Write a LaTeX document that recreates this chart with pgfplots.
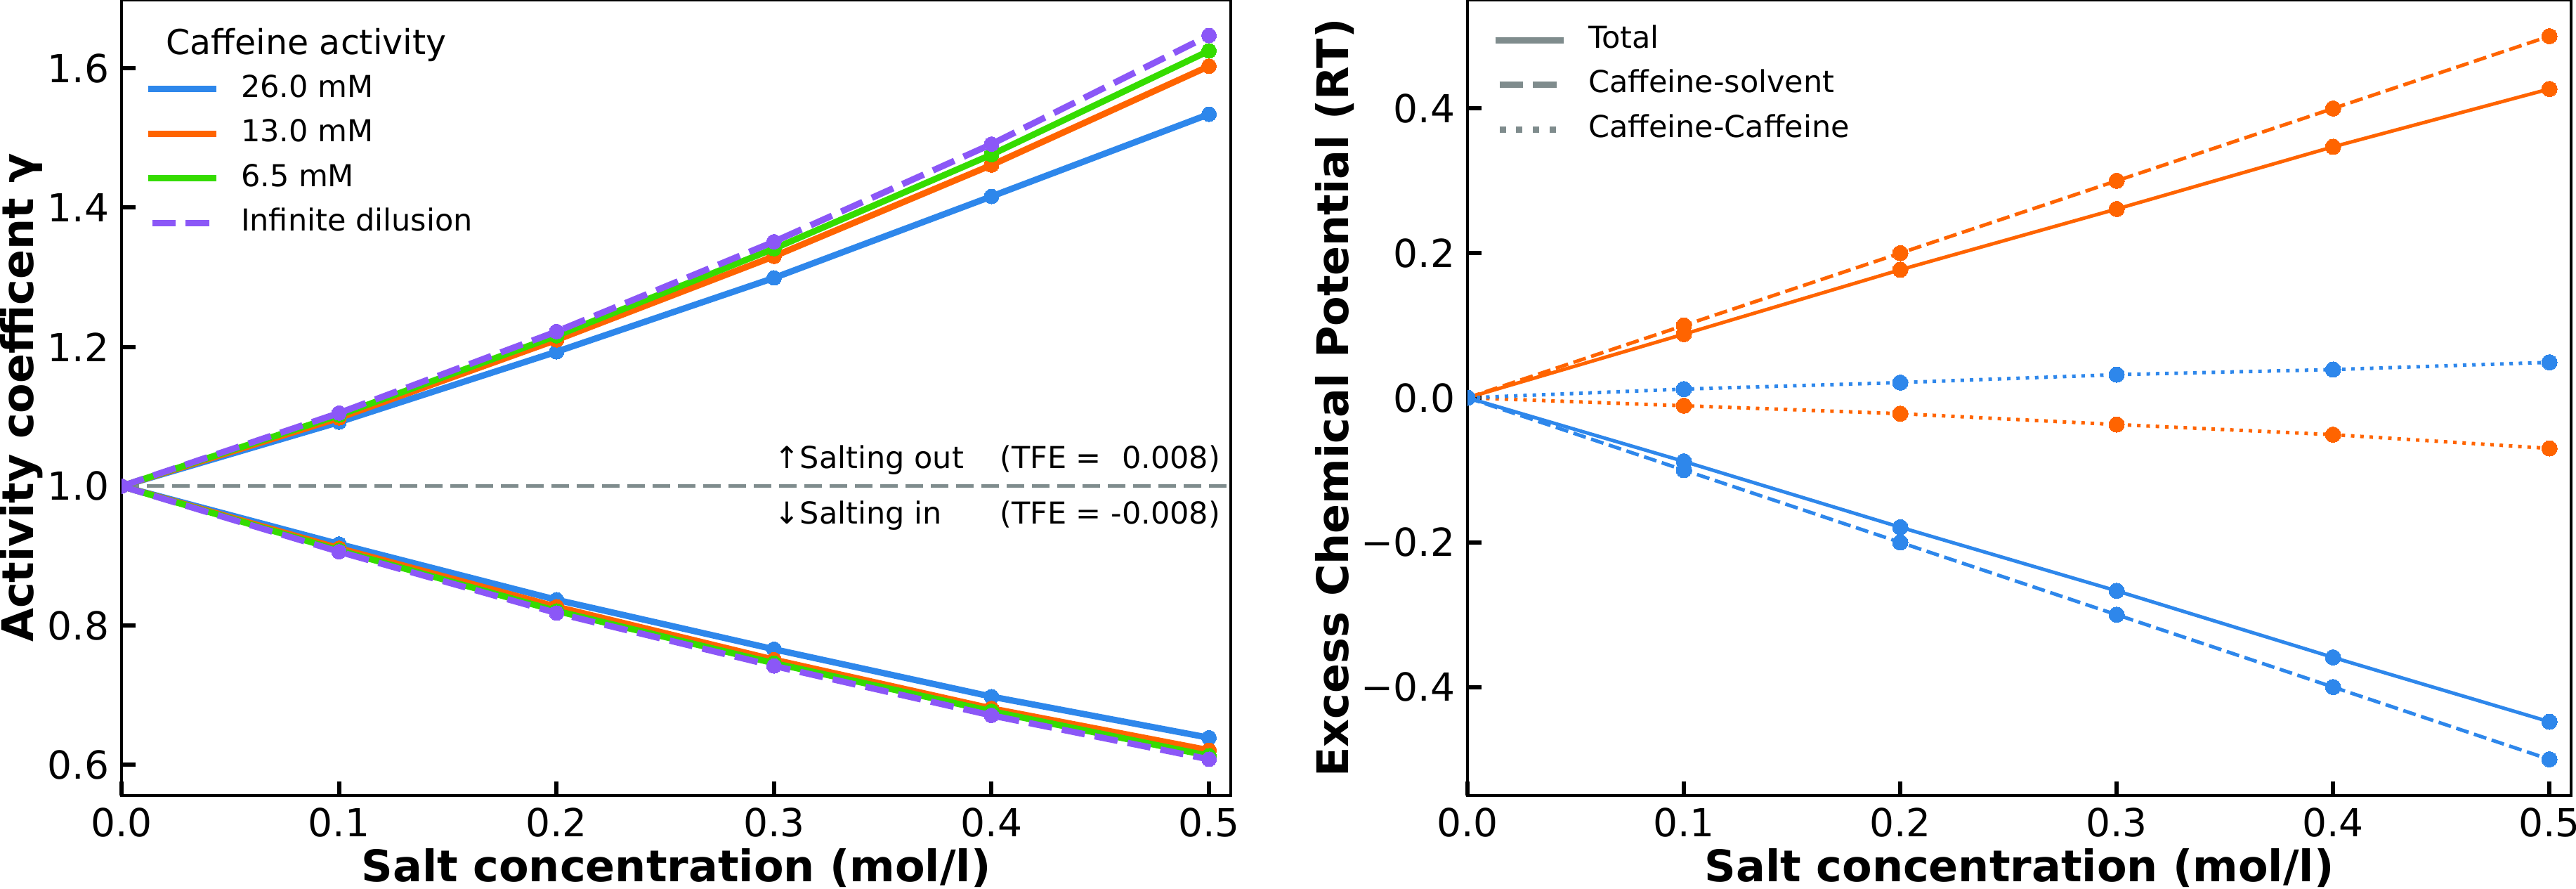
\documentclass[border=0pt]{standalone}
\usepackage{fontspec}
\setmainfont{DejaVu Sans}
\usepackage{pgfplots}
\pgfplotsset{compat=1.18}
\definecolor{cblue}{HTML}{2E87EB}
\definecolor{corange}{HTML}{FF6400}
\definecolor{cgreen}{HTML}{35DC00}
\definecolor{cpurple}{HTML}{8B57F7}
\definecolor{cgray}{HTML}{7F8C8D}
\newcommand{\labfont}{\fontsize{12.4}{14}\selectfont\bfseries}
\pgfplotsset{
  base/.style={
    scale only axis,
    anchor=south west,
    height=226.4pt,
    xmin=0, xmax=0.51,
    xtick={0,0.1,0.2,0.3,0.4,0.5},
    xticklabels={0.0,0.1,0.2,0.3,0.4,0.5},
    tick pos=left,
    tick align=inside,
    major tick length=4pt,
    every tick/.style={black, line width=1.2pt},
    axis line style={line width=0.7pt},
    tick label style={font=\fontsize{11}{13}\selectfont},
    xlabel={Salt concentration (mol/l)},
    every axis x label/.style={at={(axis description cs:0.5,-0.1085)}, anchor=base, font=\labfont},
    clip marker paths=true,
    legend image code/.code={\draw[#1] (0pt,0pt) -- (19.4pt,0pt);},
    legend cell align=left,
    legend style={draw=none, fill=none, inner sep=0pt, outer sep=0pt,
      row sep=4.6pt, column sep=6.2pt, anchor=north west,
      font=\fontsize{8.6}{10}\selectfont,
      nodes={inner sep=0pt, text height=6.3pt, text depth=1.8pt}},
  },
  lt/.style={line width=1.8pt, mark=*, mark size=2.1pt, mark options={solid, line width=0pt}, forget plot},
  rt/.style={line width=1pt, mark=*, mark size=2.2pt, mark options={solid, line width=0pt}, forget plot},
}
\begin{document}
\begin{tikzpicture}
\path[use as bounding box] (0,0) rectangle (733.4pt,-253pt);
% ---------------- left panel ----------------
\begin{axis}[base,
  at={(34.6pt,-226.4pt)}, width=315.8pt,
  ymin=0.556, ymax=1.698,
  ytick={0.6,0.8,1.0,1.2,1.4,1.6},
  yticklabels={0.6,0.8,1.0,1.2,1.4,1.6},
  ylabel={Activity coefficent γ},
  every axis y label/.style={at={(axis description cs:-0.0792,0.5)}, rotate=90, anchor=base, font=\labfont},
  legend style={at={(axis description cs:0.0209,0.9057)}},
]
\addplot[cgray, line width=1pt, dash pattern=on 5pt off 2.2pt, forget plot] coordinates {(0,1) (0.51,1)};
\addplot[cblue, lt] coordinates {(0,1) (0.1,1.092) (0.2,1.193) (0.3,1.299) (0.4,1.416) (0.5,1.534)};
\addplot[cblue, lt] coordinates {(0,1) (0.1,0.917) (0.2,0.837) (0.3,0.766) (0.4,0.698) (0.5,0.639)};
\addplot[corange, lt] coordinates {(0,1) (0.1,1.098) (0.2,1.210) (0.3,1.330) (0.4,1.461) (0.5,1.603)};
\addplot[corange, lt] coordinates {(0,1) (0.1,0.911) (0.2,0.827) (0.3,0.751) (0.4,0.681) (0.5,0.621)};
\addplot[cgreen, lt] coordinates {(0,1) (0.1,1.102) (0.2,1.216) (0.3,1.341) (0.4,1.476) (0.5,1.625)};
\addplot[cgreen, lt] coordinates {(0,1) (0.1,0.908) (0.2,0.821) (0.3,0.746) (0.4,0.677) (0.5,0.613)};
\addplot[cpurple, lt, dash pattern=on 6.66pt off 2.88pt] coordinates {(0,1) (0.1,1.105) (0.2,1.222) (0.3,1.351) (0.4,1.491) (0.5,1.647)};
\addplot[cpurple, lt, dash pattern=on 6.66pt off 2.88pt] coordinates {(0,1) (0.1,0.906) (0.2,0.818) (0.3,0.742) (0.4,0.671) (0.5,0.608)};
\addlegendimage{cblue, line width=1.8pt}\addlegendentry{26.0 mM}
\addlegendimage{corange, line width=1.8pt}\addlegendentry{13.0 mM}
\addlegendimage{cgreen, line width=1.8pt}\addlegendentry{6.5 mM}
\addlegendimage{cpurple, line width=1.8pt, dash pattern=on 6.66pt off 2.88pt, dash phase=-1.2pt}\addlegendentry{Infinite dilusion}
\node[anchor=base, font=\fontsize{9.8}{11}\selectfont] at (rel axis cs:0.1666,0.9311) {Caffeine activity};
\node[anchor=base west, inner sep=0pt, font=\fontsize{8.6}{10}\selectfont] at (axis cs:0.3,1.026) {↑Salting out};
\node[anchor=base west, inner sep=0pt, font=\fontsize{8.6}{10}\selectfont] at (axis cs:0.4035,1.026) {(TFE = \hphantom{-}0.008)};
\node[anchor=base west, inner sep=0pt, font=\fontsize{8.6}{10}\selectfont] at (axis cs:0.3,0.9455) {↓Salting in};
\node[anchor=base west, inner sep=0pt, font=\fontsize{8.6}{10}\selectfont] at (axis cs:0.4035,0.9455) {(TFE = -0.008)};
\end{axis}
% ---------------- right panel ----------------
\begin{axis}[base,
  at={(417.8pt,-226.4pt)}, width=314.2pt,
  ymin=-0.55, ymax=0.55,
  ytick={-0.4,-0.2,0,0.2,0.4},
  yticklabels={−0.4,−0.2,0.0,0.2,0.4},
  ylabel={Excess Chemical Potential (RT)},
  every axis y label/.style={at={(axis description cs:-0.1076,0.5)}, rotate=90, anchor=base, font=\labfont},
  legend style={at={(axis description cs:0.0223,0.9675)}},
]
\addplot[corange, rt, dash pattern=on 3.7pt off 1.6pt] coordinates {(0,0) (0.1,0.100) (0.2,0.200) (0.3,0.300) (0.4,0.400) (0.5,0.500)};
\addplot[corange, rt] coordinates {(0,0) (0.1,0.088) (0.2,0.177) (0.3,0.261) (0.4,0.347) (0.5,0.427)};
\addplot[corange, rt, dash pattern=on 1pt off 1.65pt] coordinates {(0,0) (0.1,-0.011) (0.2,-0.022) (0.3,-0.037) (0.4,-0.051) (0.5,-0.070)};
\addplot[cblue, rt, dash pattern=on 1pt off 1.65pt] coordinates {(0,0) (0.1,0.012) (0.2,0.021) (0.3,0.032) (0.4,0.039) (0.5,0.049)};
\addplot[cblue, rt] coordinates {(0,0) (0.1,-0.088) (0.2,-0.179) (0.3,-0.267) (0.4,-0.359) (0.5,-0.448)};
\addplot[cblue, rt, dash pattern=on 3.7pt off 1.6pt] coordinates {(0,0) (0.1,-0.100) (0.2,-0.200) (0.3,-0.300) (0.4,-0.400) (0.5,-0.500)};
\addlegendimage{cgray, line width=1.8pt}\addlegendentry{Total}
\addlegendimage{cgray, line width=1.8pt, dash pattern=on 6.66pt off 2.88pt, dash phase=-1.2pt}\addlegendentry{Caffeine-solvent}
\addlegendimage{cgray, line width=1.8pt, dash pattern=on 1.8pt off 2.97pt, dash phase=-1.2pt}\addlegendentry{Caffeine-Caffeine}
\end{axis}
\end{tikzpicture}
\end{document}
